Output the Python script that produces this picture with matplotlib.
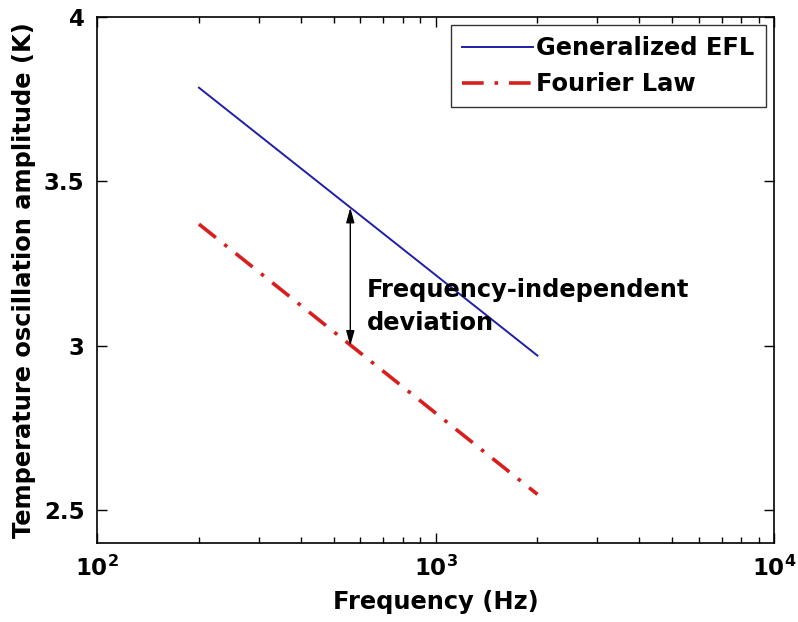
import math

import matplotlib
matplotlib.use("Agg")
import matplotlib.pyplot as plt
from matplotlib.ticker import FuncFormatter, LogLocator

plt.rcParams['font.family'] = ['DejaVu Sans']
plt.rcParams['font.weight'] = 'bold'
plt.rcParams['mathtext.fontset'] = 'custom'
plt.rcParams['mathtext.rm'] = 'DejaVu Sans:bold'
plt.rcParams['mathtext.bf'] = 'DejaVu Sans:bold'

# data (straight lines on log-x axis)
freq = [200, 2000]
generalized_efl = [3.785, 2.97]
fourier_law = [3.37, 2.548]

arrow_freq = 560
arrow_low = 3.0
arrow_high = 3.42

fs = 16.5
lfs = 17.4

fig = plt.figure(figsize=(7.98, 6.22), dpi=100)
ax = fig.add_axes([0.1216, 0.127, 0.8484, 0.8457])

ax.plot(freq, generalized_efl, color='#1f1fa6', lw=1.4, label='Generalized EFL')
ax.plot(freq, fourier_law, color='#d91e1e', lw=2.6, ls=(0, (6, 3, 1, 3)), label='Fourier Law')

ax.set_xscale('log')
ax.set_xlim(100, 10000)
ax.set_ylim(2.4, 4.0)
ax.set_yticks([2.5, 3, 3.5, 4])
ax.set_yticklabels(['2.5', '3', '3.5', '4'])
ax.xaxis.set_major_locator(LogLocator(base=10))
ax.xaxis.set_major_formatter(FuncFormatter(lambda v, p: r'$\mathbf{10^{%d}}$' % round(math.log10(v))))

ax.tick_params(which='both', direction='in', top=True, right=True, labelsize=fs, width=1.0)
ax.tick_params(which='major', length=7, pad=9)
ax.tick_params(which='minor', length=4)
for s in ax.spines.values():
    s.set_linewidth(1.2)

ax.set_xlabel('Frequency (Hz)', fontsize=lfs, fontweight='bold', labelpad=7)
ax.set_ylabel('Temperature oscillation amplitude (K)', fontsize=lfs, fontweight='bold', labelpad=6)

ax.annotate('', xy=(arrow_freq, arrow_high), xytext=(arrow_freq, arrow_low),
            arrowprops=dict(arrowstyle='<|-|>,head_length=0.9,head_width=0.25',
                            color='black', lw=1.0, shrinkA=0, shrinkB=0))
ax.text(628, 3.12, 'Frequency-independent\ndeviation', fontsize=lfs, fontweight='bold',
        va='center', ha='left', linespacing=1.45)

leg = ax.legend(loc='upper right', fontsize=lfs, frameon=True, fancybox=False,
                edgecolor='black', handlelength=2.95, borderaxespad=0.35,
                labelspacing=0.5, handletextpad=0.15, borderpad=0.45)
leg.get_frame().set_linewidth(1.0)
for t in leg.get_texts():
    t.set_fontweight('bold')

fig.savefig('out.png', dpi=100)
